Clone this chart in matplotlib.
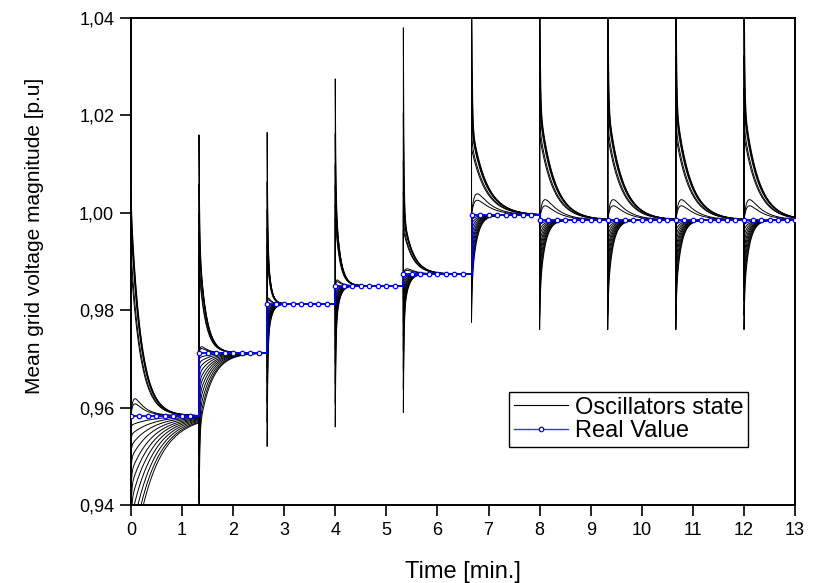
import numpy as np
import matplotlib
matplotlib.use('Agg')
import matplotlib.pyplot as plt
from matplotlib.ticker import FuncFormatter
from matplotlib.lines import Line2D

plt.rcParams['font.family'] = ['Liberation Sans', 'DejaVu Sans']

# Tramos de consigna (min) y valor real de la tension media (p.u)
seg_start = [0.0, 1.333, 2.667, 4.0, 5.333, 6.667, 8.0, 9.333, 10.667, 12.0]
real_value = [0.9583, 0.9712, 0.9813, 0.9850, 0.9874, 0.9995, 0.9985, 0.9985, 0.9985, 0.9985]

# Picos y colas de los osciladores en cada tramo
spike_high = [1.006, 1.016, 1.0165, 1.0275, 1.038, 1.060, 1.060, 1.060, 1.060, 1.060]
spike_low = [0.900, 0.935, 0.952, 0.956, 0.959, 0.9775, 0.976, 0.976, 0.976, 0.976]
tail_high = [1.002, 0.995, 0.995, 1.004, 1.000, 1.0185, 1.0225, 1.0225, 1.0225, 1.0225]
tail_low = [0.926, 0.955, 0.972, 0.975, 0.978, 0.985, 0.983, 0.983, 0.983, 0.983]
bump_high = [0.9618, 0.9725, 0.9825, 0.9862, 0.9885, 1.0039, 1.0027, 1.0027, 1.0027, 1.0027]
tau_up = [0.20, 0.13, 0.06, 0.09, 0.18, 0.28, 0.27, 0.27, 0.27, 0.27]
tau_low = [0.43, 0.24, 0.07, 0.07, 0.08, 0.10, 0.10, 0.10, 0.10, 0.10]
tau_fast = 0.012

# Reparto de los osciladores dentro de cada familia
up_tail = [1.0, 0.97, 0.94, 0.90, 0.78, 0.72]
up_spike = [1.0, 0.55, 0.30, 0.15, 0.08, 0.0]
low_tail = [1.0, 0.90, 0.78, 0.66, 0.55, 0.45, 0.36, 0.27, 0.19, 0.12, 0.06]
low_spike = [1.0, 0.80, 0.65, 0.50, 0.40, 0.30, 0.22, 0.15, 0.10, 0.06, 0.03]
bump_frac = [1.0, 0.7]

t_end = 13.0
sample_step = 1 / 6  # muestras del valor real
samples_per_seg = 8


def segment_curve(k, s, role, i):
    v = real_value[k]
    if role == 'up':
        tail = (tail_high[k] - v) * up_tail[i]
        fast = (spike_high[k] - tail_high[k]) * up_spike[i]
        return v + tail * np.exp(-s / tau_up[k]) + fast * np.exp(-s / tau_fast)
    if role == 'low':
        tail = (tail_low[k] - v) * low_tail[i]
        fast = (spike_low[k] - tail_low[k]) * low_spike[i]
        return v + tail * np.exp(-s / tau_low[k]) + fast * np.exp(-s / tau_fast)
    amp = (bump_high[k] - v) * bump_frac[i] / 0.535
    return v + amp * (np.exp(-s / tau_up[k]) - np.exp(-5 * s / tau_up[k]))


roles = [('up', i) for i in range(len(up_tail))] + \
        [('low', i) for i in range(len(low_tail))] + \
        [('bump', i) for i in range(len(bump_frac))]

fig = plt.figure(figsize=(8.18, 5.83), dpi=100)
ax = fig.add_axes([0.160, 0.134, 0.812, 0.835])

for role, i in roles:
    ts, ys = [], []
    for k, t0 in enumerate(seg_start):
        t1 = seg_start[k + 1] if k + 1 < len(seg_start) else t_end
        L = t1 - t0
        s = np.concatenate([np.linspace(0, 0.06, 150), np.linspace(0.06, L, 300)[1:]])
        ts.append(t0 + s)
        ys.append(segment_curve(k, s, role, i))
    ax.plot(np.concatenate(ts), np.concatenate(ys), color='black', lw=0.7, zorder=2)

# Valor real: escalones muestreados cada 1/6 min
n = np.arange(int(round(t_end / sample_step)) + 1)
t_real = n * sample_step
v_real = [real_value[min(j // samples_per_seg, len(real_value) - 1)] for j in n]
ax.plot(t_real, v_real, color='#0000ff', lw=1.3, drawstyle='steps-post', zorder=3)
ax.plot(t_real, v_real, ls='none', marker='o', ms=3.2, mfc='white', mec='#0000ff',
        mew=0.9, zorder=4)

ax.set_xlim(0, 13)
ax.set_ylim(0.94, 1.04)
ax.set_xticks(range(0, 14))
ax.set_yticks([0.94, 0.96, 0.98, 1.00, 1.02, 1.04])
ax.yaxis.set_major_formatter(FuncFormatter(lambda v, p: f"{v:.2f}".replace('.', ',')))
ax.tick_params(direction='out', length=8, width=1.2, labelsize=13, pad=4,
               top=False, right=False)
for sp in ax.spines.values():
    sp.set_linewidth(1.4)

ax.set_xlabel('Time [min.]', fontsize=17, labelpad=16)
ax.set_ylabel('Mean grid voltage magnitude [p.u]', fontsize=15)
ax.yaxis.set_label_coords(-0.131, 0.552)

handles = [Line2D([], [], color='black', lw=0.8),
           Line2D([], [], color='#3333ff', lw=1.0, marker='o', ms=3.2, mfc='white',
                  mec='#0000ff', mew=0.9)]
leg = ax.legend(handles, ['Oscillators state', 'Real Value'], loc='upper left',
                bbox_to_anchor=(0.569, 0.232), borderaxespad=0, fontsize=17,
                frameon=True, fancybox=False, edgecolor='black', framealpha=1,
                handlelength=2.3, handletextpad=0.3, borderpad=0.2, labelspacing=0.05)
leg.get_frame().set_linewidth(1.0)

plt.savefig('out.png', dpi=100)
